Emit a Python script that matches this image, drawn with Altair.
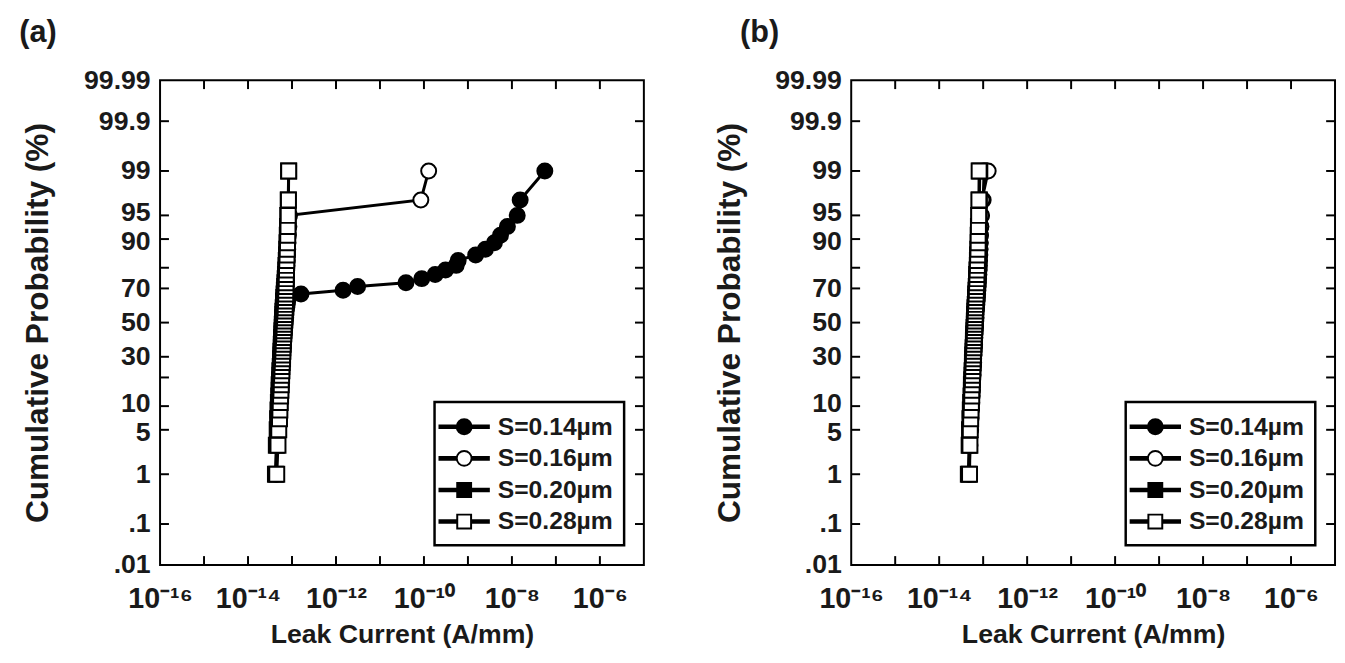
import altair as alt
import pandas as pd
from statistics import NormalDist

# ---------------- data ----------------
series_names = ["S=0.14\u00b5m", "S=0.16\u00b5m", "S=0.20\u00b5m", "S=0.28\u00b5m"]

cum_prob = [1, 3, 5, 7, 9, 11, 13, 15, 17, 19,
            21, 23, 25, 27, 29, 31, 33, 35, 37, 39,
            41, 43, 45, 47, 49, 51, 53, 55, 57, 59,
            61, 63, 65, 67, 69, 71, 73, 75, 77, 79,
            81, 83, 85, 87, 89, 91, 93, 95, 97, 99]

# panel (a) leak current, A/mm
a_s014 = [4.3e-14, 4.5e-14, 4.7e-14, 4.9e-14, 5.0e-14, 5.1e-14, 5.2e-14, 5.3e-14, 5.4e-14, 5.5e-14,
          5.6e-14, 5.7e-14, 5.8e-14, 5.9e-14, 6.0e-14, 6.1e-14, 6.2e-14, 6.3e-14, 6.4e-14, 6.5e-14,
          6.6e-14, 6.7e-14, 6.8e-14, 6.9e-14, 7.0e-14, 7.1e-14, 7.2e-14, 7.3e-14, 7.4e-14, 7.6e-14,
          7.8e-14, 8.0e-14, 8.3e-14, 1.6e-13, 1.45e-12, 3.1e-12, 3.9e-11, 8.9e-11, 1.8e-10, 3.1e-10,
          5.4e-10, 6.0e-10, 1.5e-9, 2.5e-9, 4.0e-9, 5.5e-9, 7.9e-9, 1.32e-8, 1.54e-8, 5.6e-8]
a_s016 = [4.4e-14, 4.6e-14, 4.8e-14, 4.9e-14, 5.0e-14, 5.1e-14, 5.2e-14, 5.3e-14, 5.3e-14, 5.4e-14,
          5.5e-14, 5.6e-14, 5.6e-14, 5.7e-14, 5.8e-14, 5.8e-14, 5.9e-14, 6.0e-14, 6.0e-14, 6.1e-14,
          6.2e-14, 6.2e-14, 6.3e-14, 6.4e-14, 6.4e-14, 6.5e-14, 6.6e-14, 6.6e-14, 6.7e-14, 6.8e-14,
          6.8e-14, 6.9e-14, 7.0e-14, 7.1e-14, 7.1e-14, 7.2e-14, 7.3e-14, 7.4e-14, 7.5e-14, 7.6e-14,
          7.7e-14, 7.8e-14, 7.9e-14, 8.0e-14, 8.1e-14, 8.3e-14, 8.5e-14, 8.8e-14, 8.5e-11, 1.28e-10]
a_s020 = [4.2e-14, 4.4e-14, 4.6e-14, 4.7e-14, 4.8e-14, 4.9e-14, 5.0e-14, 5.1e-14, 5.1e-14, 5.2e-14,
          5.3e-14, 5.3e-14, 5.4e-14, 5.5e-14, 5.5e-14, 5.6e-14, 5.6e-14, 5.7e-14, 5.7e-14, 5.8e-14,
          5.8e-14, 5.9e-14, 5.9e-14, 6.0e-14, 6.0e-14, 6.1e-14, 6.1e-14, 6.2e-14, 6.2e-14, 6.3e-14,
          6.4e-14, 6.4e-14, 6.5e-14, 6.6e-14, 6.7e-14, 6.8e-14, 6.9e-14, 7.0e-14, 7.1e-14, 7.2e-14,
          7.3e-14, 7.4e-14, 7.5e-14, 7.6e-14, 7.7e-14, 7.8e-14, 7.9e-14, 8.0e-14, 8.2e-14, 8.4e-14]
a_s028 = [4.5e-14, 4.8e-14, 5.0e-14, 5.2e-14, 5.3e-14, 5.4e-14, 5.5e-14, 5.6e-14, 5.7e-14, 5.7e-14,
          5.8e-14, 5.9e-14, 5.9e-14, 6.0e-14, 6.1e-14, 6.1e-14, 6.2e-14, 6.2e-14, 6.3e-14, 6.3e-14,
          6.4e-14, 6.5e-14, 6.5e-14, 6.6e-14, 6.6e-14, 6.7e-14, 6.8e-14, 6.8e-14, 6.9e-14, 7.0e-14,
          7.0e-14, 7.1e-14, 7.1e-14, 7.2e-14, 7.2e-14, 7.3e-14, 7.3e-14, 7.4e-14, 7.4e-14, 7.5e-14,
          7.5e-14, 7.6e-14, 7.7e-14, 7.8e-14, 7.9e-14, 8.0e-14, 8.1e-14, 8.2e-14, 8.3e-14, 8.4e-14]

# panel (b) leak current, A/mm
b_s014 = [4.8e-14, 5.0e-14, 5.2e-14, 5.3e-14, 5.4e-14, 5.5e-14, 5.6e-14, 5.7e-14, 5.7e-14, 5.8e-14,
          5.9e-14, 5.9e-14, 6.0e-14, 6.1e-14, 6.1e-14, 6.2e-14, 6.2e-14, 6.3e-14, 6.4e-14, 6.4e-14,
          6.5e-14, 6.5e-14, 6.6e-14, 6.7e-14, 6.7e-14, 6.8e-14, 6.9e-14, 6.9e-14, 7.0e-14, 7.1e-14,
          7.2e-14, 7.3e-14, 7.4e-14, 7.5e-14, 7.6e-14, 7.7e-14, 7.8e-14, 7.9e-14, 8.0e-14, 8.1e-14,
          8.2e-14, 8.3e-14, 8.4e-14, 8.5e-14, 8.6e-14, 8.7e-14, 8.9e-14, 9.2e-14, 1.0e-13, 1.05e-13]
b_s016 = [4.7e-14, 4.9e-14, 5.1e-14, 5.2e-14, 5.3e-14, 5.4e-14, 5.5e-14, 5.6e-14, 5.6e-14, 5.7e-14,
          5.8e-14, 5.8e-14, 5.9e-14, 6.0e-14, 6.0e-14, 6.1e-14, 6.2e-14, 6.2e-14, 6.3e-14, 6.3e-14,
          6.4e-14, 6.5e-14, 6.5e-14, 6.6e-14, 6.7e-14, 6.7e-14, 6.8e-14, 6.8e-14, 6.9e-14, 7.0e-14,
          7.1e-14, 7.2e-14, 7.3e-14, 7.4e-14, 7.5e-14, 7.6e-14, 7.7e-14, 7.8e-14, 7.9e-14, 8.0e-14,
          8.1e-14, 8.2e-14, 8.3e-14, 8.4e-14, 8.5e-14, 8.6e-14, 8.8e-14, 9.0e-14, 9.4e-14, 1.3e-13]
b_s020 = [4.6e-14, 4.8e-14, 4.9e-14, 5.0e-14, 5.1e-14, 5.2e-14, 5.3e-14, 5.4e-14, 5.4e-14, 5.5e-14,
          5.6e-14, 5.6e-14, 5.7e-14, 5.7e-14, 5.8e-14, 5.8e-14, 5.9e-14, 5.9e-14, 6.0e-14, 6.0e-14,
          6.1e-14, 6.1e-14, 6.2e-14, 6.2e-14, 6.3e-14, 6.3e-14, 6.4e-14, 6.4e-14, 6.5e-14, 6.5e-14,
          6.6e-14, 6.7e-14, 6.7e-14, 6.8e-14, 6.9e-14, 7.0e-14, 7.1e-14, 7.2e-14, 7.2e-14, 7.3e-14,
          7.4e-14, 7.5e-14, 7.6e-14, 7.7e-14, 7.8e-14, 7.9e-14, 8.0e-14, 8.1e-14, 8.2e-14, 8.4e-14]
b_s028 = [4.9e-14, 5.0e-14, 5.1e-14, 5.2e-14, 5.3e-14, 5.4e-14, 5.5e-14, 5.5e-14, 5.6e-14, 5.7e-14,
          5.7e-14, 5.8e-14, 5.8e-14, 5.9e-14, 5.9e-14, 6.0e-14, 6.0e-14, 6.1e-14, 6.1e-14, 6.2e-14,
          6.2e-14, 6.3e-14, 6.3e-14, 6.4e-14, 6.4e-14, 6.5e-14, 6.5e-14, 6.6e-14, 6.6e-14, 6.7e-14,
          6.7e-14, 6.8e-14, 6.8e-14, 6.9e-14, 7.0e-14, 7.0e-14, 7.1e-14, 7.2e-14, 7.2e-14, 7.3e-14,
          7.4e-14, 7.4e-14, 7.5e-14, 7.6e-14, 7.7e-14, 7.7e-14, 7.8e-14, 7.9e-14, 8.0e-14, 8.1e-14]

# axis ticks / labels
y_tick_probs = [0.1, 1, 5, 10, 20, 30, 50, 70, 80, 90, 95, 99, 99.9]
y_label_probs = [0.01, 0.1, 1, 5, 10, 30, 50, 70, 90, 95, 99, 99.9, 99.99]
y_label_texts = [".01", ".1", "1", "5", "10", "30", "50", "70", "90", "95", "99", "99.9", "99.99"]
y_label_up = [10, 95]     # labels nudged up a little (crowded pairs)
y_label_down = [5, 90]    # labels nudged down a little
x_tick_values = [1e-15, 1e-14, 1e-13, 1e-12, 1e-11, 1e-10, 1e-9, 1e-8, 1e-7, 1e-6]
x_label_values = [1e-16, 1e-14, 1e-12, 1e-10, 1e-8, 1e-6]
x_label_texts = ["10\u207b\u00b9\u2076", "10\u207b\u00b9\u2074", "10\u207b\u00b9\u00b2",
                 "10\u207b\u00b9\u2070", "10\u207b\u2078", "10\u207b\u2076"]
x_domain = [1e-16, 1e-5]

# ---------------- helpers ----------------
nd = NormalDist()
def zq(p):
    return nd.inv_cdf(p / 100.0)

z_domain = [zq(y_label_probs[0]), zq(y_label_probs[-1])]
z_label_vals = [zq(p) for p in y_label_probs]

y_expr = "".join(f"abs(datum.value - ({z:.6f})) < 0.01 ? '{t}' : "
                 for z, t in zip(z_label_vals, y_label_texts)) + "''"
x_expr = "".join(f"datum.value < {v * 3:.3e} ? '{t}' : "
                 for v, t in zip(x_label_values, x_label_texts)) + "''"

def near_any(probs):
    return " || ".join(f"abs(datum.value - ({zq(p):.6f})) < 0.01" for p in probs)

y_label_offset = {
    "condition": [
        {"test": near_any(y_label_up), "value": -3},
        {"test": near_any(y_label_down), "value": 3},
    ],
    "value": 0,
}

W, H = 490, 491
TL = 9  # inward tick length
FONT = "Liberation Sans"
INK = "#1a1a1a"

fills = ["black", "white", "black", "white"]
circ_path = ("M-2,-0.1H-0.58M-2,0H-0.58M-2,0.1H-0.58M0.58,-0.1H2M0.58,0H2M0.58,0.1H2"
             "M0.58,0A0.58,0.58,0,1,1,-0.58,0A0.58,0.58,0,1,1,0.58,0Z")
sq_path = ("M-2,-0.1H-0.54M-2,0H-0.54M-2,0.1H-0.54M0.54,-0.1H2M0.54,0H2M0.54,0.1H2"
           "M-0.54,-0.54H0.54V0.54H-0.54Z")


def panel_df(lists):
    rows = []
    for name, vals in zip(series_names, lists):
        for i, (v, p) in enumerate(zip(vals, cum_prob)):
            rows.append({"series": name, "leak": v, "prob": p, "z": zq(p), "rank": i})
    return pd.DataFrame(rows)


xt_df = pd.DataFrame({"leak": x_tick_values})
yt_df = pd.DataFrame({"z": [zq(p) for p in y_tick_probs]})

xscale = alt.Scale(type="log", domain=x_domain, nice=False)
yscale = alt.Scale(domain=z_domain, nice=False, zero=False)

xaxis = alt.Axis(values=x_label_values, labelExpr=x_expr, ticks=False, domain=False, grid=False,
                 labelPadding=20, labelFlush=False, labelOverlap=False,
                 labelFontSize=29, title="Leak Current (A/mm)", titleFontSize=27, titlePadding=9)
yaxis = alt.Axis(values=z_label_vals, labelExpr=y_expr, ticks=False, domain=False, grid=False,
                 labelPadding=10, labelOverlap=False, labelFontSize=27,
                 labelOffset=y_label_offset,
                 title="Cumulative Probability (%)", titleFontSize=32, titlePadding=29)


def panel(lists, title_text, dx):
    df = panel_df(lists)
    X = alt.X("leak:Q", scale=xscale, axis=xaxis)
    Y = alt.Y("z:Q", scale=yscale, axis=yaxis)

    top = alt.Chart(xt_df).mark_rule(color="black", strokeWidth=2).encode(
        x=X, y=alt.value(0), y2=alt.value(TL))
    bottom = alt.Chart(xt_df).mark_rule(color="black", strokeWidth=2).encode(
        x=X, y=alt.value(H), y2=alt.value(H - TL))
    left = alt.Chart(yt_df).mark_rule(color="black", strokeWidth=2).encode(
        y=Y, x=alt.value(0), x2=alt.value(TL))
    right = alt.Chart(yt_df).mark_rule(color="black", strokeWidth=2).encode(
        y=Y, x=alt.value(W), x2=alt.value(W - TL))

    lines = alt.Chart(df).mark_line(color="black", strokeWidth=3).encode(
        x=X, y=Y, detail="series:N", order="rank:Q")

    pts = alt.Chart(df).mark_point(filled=True, stroke="black", strokeWidth=2,
                                   opacity=1, size=230).encode(
        x=X, y=Y,
        shape=alt.Shape("series:N", scale=alt.Scale(domain=series_names,
                        range=["circle", "circle", "square", "square"]), legend=None),
        fill=alt.Fill("series:N", scale=alt.Scale(domain=series_names, range=fills), legend=None),
    )

    leg = alt.Legend(title=None)
    legend_layer = alt.Chart(df).mark_point(filled=True, stroke="black", strokeWidth=2,
                                            opacity=0, size=676).encode(
        x=X, y=Y,
        shape=alt.Shape("series:N", scale=alt.Scale(domain=series_names,
                        range=[circ_path, circ_path, sq_path, sq_path]), legend=leg),
        fill=alt.Fill("series:N", scale=alt.Scale(domain=series_names, range=fills), legend=leg),
    )

    return alt.layer(top, bottom, left, right, lines, pts, legend_layer).resolve_scale(
        shape="independent", fill="independent"
    ).properties(
        width=W, height=H,
        title=alt.TitleParams(title_text, anchor="start", dx=dx, offset=18,
                              fontSize=31, font=FONT, fontWeight="bold", color=INK),
    )


pa = panel([a_s014, a_s016, a_s020, a_s028], "(a)", -3)
pb = panel([b_s014, b_s016, b_s020, b_s028], "(b)", 27)

chart = alt.hconcat(pa, pb, spacing=67).resolve_scale(
    shape="independent", fill="independent"
).properties(
    padding={"left": 10, "top": 4, "right": 0, "bottom": 0},
    background="white",
).configure_view(
    stroke="black", strokeWidth=2
).configure_axis(
    labelFont=FONT, titleFont=FONT, labelFontWeight="bold", titleFontWeight="bold",
    labelColor=INK, titleColor=INK,
).configure_legend(
    orient="bottom-right", offset=20, padding=11, strokeColor="black", strokeWidth=2.5,
    fillColor="white", cornerRadius=0,
    symbolSize=676, symbolStrokeWidth=2, symbolOpacity=1, symbolOffset=5,
    labelOffset=20, labelFont=FONT, labelFontSize=25, labelFontWeight="bold",
    labelColor=INK, rowPadding=5, labelLimit=300,
)

chart.save("out.html", embed_options={"renderer": "svg", "actions": False})
